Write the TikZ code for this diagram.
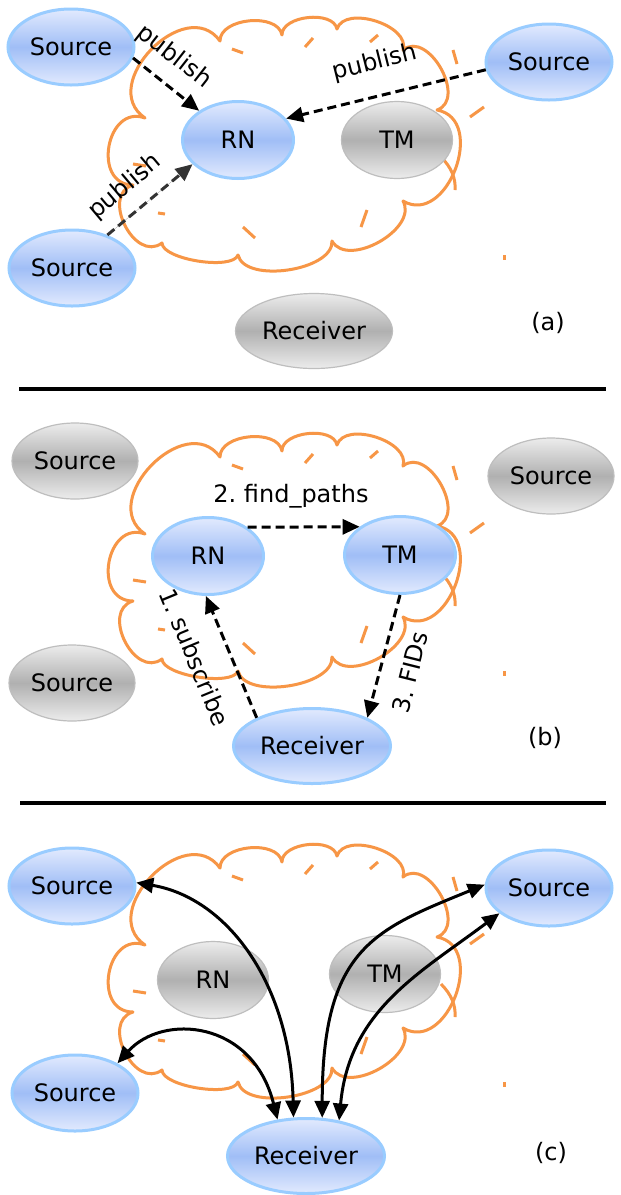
\documentclass[tikz,border=0pt]{standalone}
\usepackage{fontspec}
\setmainfont{DejaVu Sans}
\usetikzlibrary{shapes.geometric,arrows.meta}

\definecolor{cloudorange}{RGB}{247,150,70}
\definecolor{blueedge}{RGB}{153,204,255}
\definecolor{bluemid}{RGB}{160,190,246}
\definecolor{bluelight}{RGB}{226,234,254}
\definecolor{grayedge}{RGB}{190,190,190}
\definecolor{graymid}{RGB}{176,176,176}
\definecolor{graylight}{RGB}{236,236,236}
\definecolor{arrowgray}{RGB}{51,51,51}

\tikzset{
  ent/.style={ellipse, inner sep=0pt, font=\fontsize{24}{28}\selectfont},
  active/.style={ent, draw=blueedge, line width=3pt,
    top color=bluelight, bottom color=bluelight, middle color=bluemid},
  idle/.style={ent, draw=grayedge, line width=1.2pt,
    top color=graylight, bottom color=graylight, middle color=graymid},
  srcsize/.style={minimum width=126pt, minimum height=76pt},
  coresize/.style={minimum width=111pt, minimum height=77pt},
  rcvsize/.style={minimum width=157pt, minimum height=75pt},
  lbl/.style={inner sep=0pt, font=\fontsize{24}{28}\selectfont},
  cloudline/.style={draw=cloudorange, line width=3pt, line join=round},
  pub/.style={line width=3pt, dash pattern=on 9pt off 5pt,
    -{Triangle[length=17pt,width=15pt]}},
  flow/.style={line width=3pt,
    {Triangle[length=17pt,width=15pt]}-{Triangle[length=17pt,width=15pt]}},
  separator/.style={line width=3.3pt},
  pics/netcloud/.style={code={
    % outline of the network cloud, one puff per segment
    \draw[cloudline] (145,118)
      to[bend left=100, looseness=1.4]  (220,41)
      to[bend left=85,  looseness=0.95] (282,35)
      to[bend left=85,  looseness=0.9]  (337,29)
      to[bend left=90,  looseness=0.95] (403,50)
      to[bend left=100, looseness=1.2]  (437,110)
      to[bend left=100, looseness=1.35] (403,201)
      to[bend left=90,  looseness=1.0]  (332,241)
      to[bend left=85,  looseness=0.8]  (238,255)
      to[bend left=80,  looseness=0.55] (162,243)
      to[bend left=100, looseness=1.35] (133,185)
      to[bend left=100, looseness=1.55] (145,118) -- cycle;
    % broken inner arcs of the puffs
    \draw[cloudline] (232,49) -- (243,53);
    \draw[cloudline] (305,47) -- (313,38);
    \draw[cloudline] (370,42) -- (378,35);
    \draw[cloudline] (453,50) -- (457,64);
    \draw[cloudline] (470,117) -- (484,107);
    \draw[cloudline] (441,157) .. controls (451,167) and (456,178) .. (455,190);
    \draw[cloudline] (367,210) -- (361,227);
    \draw[cloudline] (243,227) -- (255,238);
    \draw[cloudline] (133,164) -- (146,166);
    \draw[cloudline] (158,213) -- (165,214);
    \draw[cloudline] (504,255) -- (504,260);
  }}
}

\begin{document}
\begin{tikzpicture}[x=1pt, y=-1pt]
\fill[white] (0,0) rectangle (621,1195);
\useasboundingbox (0,0) rectangle (621,1195);

% ---------- (a) publishing ----------
\pic at (0,0) {netcloud};
\node[active, srcsize]  (srcA1) at (71,47)   {Source};
\node[active, srcsize]  (srcA2) at (549,62)  {Source};
\node[active, srcsize]  (srcA3) at (72,268)  {Source};
\node[active, coresize] (rnA)   at (238,140) {RN};
\node[idle,   coresize] (tmA)   at (397,140) {TM};
\node[idle,   rcvsize]  (recA)  at (314,331) {Receiver};

\draw[pub] (srcA1.-10) -- (rnA.143);
\draw[pub] (srcA2.187) -- (rnA.24);
\draw[pub, draw=arrowgray, fill=arrowgray] (srcA3.43) -- (rnA.208);

\node[lbl, rotate=-38] (pubA1) at (174,57)  {publish};
\node[lbl, rotate=14]  (pubA2) at (375,63)  {publish};
\node[lbl, rotate=40]  (pubA3) at (125,187) {publish};
\node[lbl] (tagA) at (548,323) {(a)};

\coordinate (sepAl) at (19,389);
\coordinate (sepAr) at (606,389);
\draw[separator] (sepAl) -- (sepAr);

% ---------- (b) subscribing ----------
\pic at (0,416) {netcloud};
\node[idle,   srcsize]  (srcB1) at (75,461)  {Source};
\node[idle,   srcsize]  (srcB2) at (551,476) {Source};
\node[idle,   srcsize]  (srcB3) at (72,683)  {Source};
\node[active, coresize] (rnB)   at (208,556) {RN};
\node[active, coresize] (tmB)   at (400,555) {TM};
\node[active, rcvsize]  (recB)  at (312,746) {Receiver};

\draw[pub] (rnB.36)   -- (tmB.145);
\draw[pub] (recB.153) -- (rnB.267);
\draw[pub] (tmB.270)  -- (recB.27);

\node[lbl] (findB) at (291,496) {2.\ find\_paths};
\node[lbl, rotate=-67.5] (subB) at (195,657) {1.\ subscribe};
\node[lbl, rotate=76]    (fidB) at (410,672) {3.\ FIDs};
\node[lbl] (tagB) at (545,738) {(b)};

\coordinate (sepBl) at (20,803);
\coordinate (sepBr) at (606,803);
\draw[separator] (sepBl) -- (sepBr);

% ---------- (c) delivery ----------
\pic at (0,827) {netcloud};
\node[active, srcsize]  (srcC1) at (72,886)   {Source};
\node[active, srcsize]  (srcC2) at (549,888)  {Source};
\node[active, srcsize]  (srcC3) at (75,1093)  {Source};
\node[idle,   coresize] (rnC)   at (213,980)  {RN};
\node[idle,   coresize] (tmC)   at (385,974)  {TM};
\node[active, rcvsize]  (recC)  at (306,1156) {Receiver};

\draw[flow] (srcC1.3)  .. controls +(90,15)   and +(-3,-135) .. (recC.108);
\draw[flow] (srcC3.35) .. controls +(45,-50)  and +(-25,-100) .. (recC.128);
\draw[flow] (recC.67)  .. controls +(0,-170)  and +(-110,45) .. (srcC2.177);
\draw[flow] (recC.47)  .. controls +(10,-110) and +(-80,60)  .. (srcC2.207);

\node[lbl] (tagC) at (551,1153) {(c)};
\end{tikzpicture}
\end{document}
